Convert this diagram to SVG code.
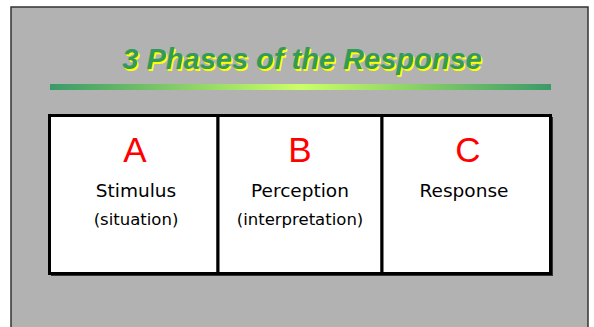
<svg xmlns="http://www.w3.org/2000/svg" width="594" height="327" viewBox="0 0 594 327">
<defs>
<linearGradient id="bar" x1="0" y1="0" x2="1" y2="0">
<stop offset="0" stop-color="#3a9a68"/>
<stop offset="0.5" stop-color="#ccff66"/>
<stop offset="1" stop-color="#3a9a68"/>
</linearGradient>
<style>
.title{font-family:"Liberation Sans",Arial,sans-serif;font-size:29px;font-weight:bold;font-style:italic;text-anchor:middle}
.letter{font-family:"Liberation Sans",Arial,sans-serif;font-size:35px;fill:#ff0000;text-anchor:middle}
.lbl{font-family:"DejaVu Sans",sans-serif;font-size:18.5px;fill:#000;text-anchor:middle}
.sub{font-family:"DejaVu Sans",sans-serif;font-size:16.5px;fill:#000;text-anchor:middle}
.cell{fill:#fff;stroke:#000;stroke-width:3}
</style>
</defs>
<rect x="0" y="0" width="594" height="327" fill="#fff"/>
<rect x="11" y="7" width="577" height="322" fill="#b2b2b2" stroke="#333" stroke-width="1.5"/>
<g id="title">
<text class="title" x="303.5" y="70.5" fill="#ffff00">3 Phases of the Response</text>
<text class="title" x="302" y="69" fill="#349a5c">3 Phases of the Response</text>
<rect x="50" y="84" width="501" height="6" fill="url(#bar)"/>
</g>
<rect x="51" y="117" width="502" height="159" fill="#333"/>
<g id="nodeA">
<rect class="cell" x="49.5" y="115.5" width="168.5" height="158"/>
<text class="letter" x="135" y="162">A</text>
<text class="lbl" x="136" y="197">Stimulus</text>
<text class="sub" x="136" y="225">(situation)</text>
</g>
<g id="nodeB">
<rect class="cell" x="218" y="115.5" width="164" height="158"/>
<text class="letter" x="300" y="162">B</text>
<text class="lbl" x="300" y="197">Perception</text>
<text class="sub" x="300" y="225">(interpretation)</text>
</g>
<g id="nodeC">
<rect class="cell" x="382" y="115.5" width="168.5" height="158"/>
<text class="letter" x="468" y="162">C</text>
<text class="lbl" x="464" y="197">Response</text>
</g>
<g id="connectors"/>
</svg>
